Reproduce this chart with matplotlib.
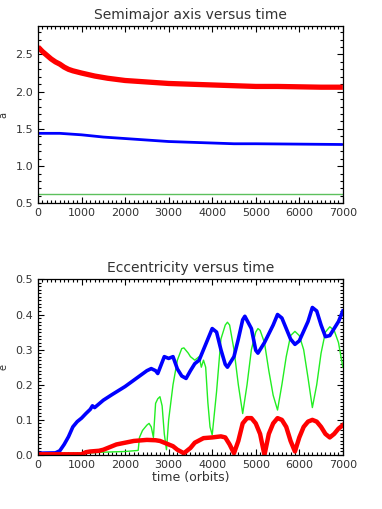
import matplotlib.pyplot as plt
from matplotlib.ticker import MultipleLocator

# semimajor axis
t_a_red = [0, 100, 200, 300, 400, 500, 600, 700, 800, 1000, 1300, 1600, 2000, 2500,
           3000, 3500, 4000, 4500, 5000, 5500, 6000, 6500, 7000]
a_red = [2.60, 2.54, 2.49, 2.44, 2.40, 2.37, 2.33, 2.30, 2.28, 2.25, 2.21, 2.18, 2.15, 2.13,
         2.11, 2.10, 2.09, 2.08, 2.07, 2.07, 2.065, 2.06, 2.06]
t_a_blue = [0, 500, 1000, 1500, 2000, 2500, 3000, 3500, 4000, 4500, 5000, 6000, 7000]
a_blue = [1.44, 1.44, 1.42, 1.39, 1.37, 1.35, 1.33, 1.32, 1.31, 1.30, 1.30, 1.295, 1.29]
t_a_green = [0, 7000]
a_green = [0.63, 0.63]

# eccentricity
t_e_blue = [0, 400, 500, 600, 700, 800, 900, 1000, 1100, 1200, 1250, 1300, 1500, 1700, 2000,
            2200, 2500, 2600, 2700, 2750, 2900, 3000, 3100, 3200, 3300, 3400, 3500, 3600,
            3700, 3800, 3900, 4000, 4100, 4200, 4300, 4350, 4500, 4600, 4700, 4750, 4900,
            5000, 5050, 5200, 5400, 5500, 5600, 5700, 5800, 5900, 6000, 6200, 6300, 6400,
            6500, 6600, 6700, 6800, 6900, 7000]
e_blue = [0.005, 0.006, 0.012, 0.03, 0.052, 0.08, 0.095, 0.105, 0.118, 0.13, 0.14, 0.135, 0.156,
          0.172, 0.195, 0.213, 0.24, 0.246, 0.24, 0.232, 0.28, 0.275, 0.28, 0.245, 0.225, 0.218,
          0.24, 0.26, 0.27, 0.30, 0.33, 0.36, 0.35, 0.30, 0.258, 0.25, 0.28, 0.33, 0.385, 0.395,
          0.36, 0.298, 0.29, 0.32, 0.37, 0.40, 0.39, 0.36, 0.33, 0.315, 0.325, 0.38, 0.42, 0.41,
          0.37, 0.337, 0.34, 0.36, 0.38, 0.41]
t_e_green = [0, 1000, 1500, 2000, 2300, 2330, 2400, 2500, 2550, 2600, 2650, 2700, 2750, 2800,
             2850, 2900, 2950, 3000, 3100, 3200, 3300, 3350, 3450, 3500, 3600, 3700, 3750, 3800,
             3850, 3900, 3950, 4000, 4100, 4200, 4300, 4350, 4400, 4500, 4600, 4700, 4800, 4900,
             5000, 5050, 5100, 5200, 5300, 5400, 5500, 5600, 5700, 5800, 5900, 6000, 6100, 6200,
             6300, 6400, 6500, 6600, 6700, 6800, 6900, 7000]
e_green = [0.004, 0.005, 0.008, 0.01, 0.013, 0.05, 0.07, 0.085, 0.09, 0.08, 0.05, 0.147, 0.16,
           0.166, 0.14, 0.06, 0.015, 0.10, 0.20, 0.27, 0.303, 0.305, 0.29, 0.28, 0.27, 0.28, 0.25,
           0.27, 0.25, 0.15, 0.08, 0.057, 0.18, 0.33, 0.37, 0.378, 0.37, 0.30, 0.20, 0.118, 0.20,
           0.30, 0.35, 0.36, 0.355, 0.32, 0.24, 0.17, 0.128, 0.20, 0.28, 0.34, 0.352, 0.34, 0.30,
           0.22, 0.135, 0.20, 0.29, 0.35, 0.365, 0.355, 0.32, 0.25]
t_e_red = [0, 1000, 1100, 1200, 1400, 1500, 1700, 1800, 2000, 2200, 2500, 2700, 2800, 3000,
           3100, 3200, 3350, 3500, 3600, 3800, 4000, 4200, 4300, 4400, 4500, 4600, 4700, 4800,
           4900, 5000, 5100, 5200, 5300, 5400, 5500, 5600, 5700, 5800, 5900, 6000, 6100, 6200,
           6300, 6400, 6500, 6600, 6700, 6800, 6900, 7000]
e_red = [0.002, 0.002, 0.008, 0.01, 0.012, 0.015, 0.025, 0.03, 0.035, 0.04, 0.043, 0.042, 0.04,
         0.03, 0.025, 0.015, 0.005, 0.02, 0.035, 0.048, 0.05, 0.053, 0.05, 0.03, 0.005, 0.04,
         0.09, 0.105, 0.105, 0.09, 0.06, 0.0, 0.06, 0.09, 0.105, 0.10, 0.08, 0.04, 0.01, 0.05,
         0.08, 0.095, 0.10, 0.095, 0.08, 0.06, 0.05, 0.06, 0.075, 0.085]

txt = '#333333'

fig = plt.figure(figsize=(3.82, 5.09), dpi=100)
ax1 = fig.add_axes([0.0995, 0.6006, 0.798, 0.348])
ax2 = fig.add_axes([0.0995, 0.1061, 0.798, 0.345])

ax1.plot(t_a_red, a_red, color='red', lw=3.8, solid_capstyle='butt')
ax1.plot(t_a_blue, a_blue, color='blue', lw=2.0, solid_capstyle='butt')
ax1.plot(t_a_green, a_green, color='#5cc05c', lw=1.0)
ax1.set_xlim(0, 7000)
ax1.set_ylim(0.5, 2.88)
ax1.yaxis.set_major_locator(MultipleLocator(0.5))
ax1.yaxis.set_minor_locator(MultipleLocator(0.1))
ax1.set_ylabel('a', fontsize=7, color=txt, labelpad=5)
ax1.set_title('Semimajor axis versus time', fontsize=10, color=txt, pad=5)

ax2.plot(t_e_green, e_green, color='#22ee22', lw=1.0)
ax2.plot(t_e_blue, e_blue, color='blue', lw=2.6)
ax2.plot(t_e_red, e_red, color='red', lw=3.2)
ax2.set_xlim(0, 7000)
ax2.set_ylim(0, 0.5)
ax2.yaxis.set_major_locator(MultipleLocator(0.1))
ax2.yaxis.set_minor_locator(MultipleLocator(0.01))
ax2.set_ylabel('e', fontsize=7, color=txt, labelpad=5)
ax2.set_xlabel('time (orbits)', fontsize=9, color=txt, labelpad=1)
ax2.set_title('Eccentricity versus time', fontsize=10, color=txt, pad=5)

for ax in (ax1, ax2):
    ax.xaxis.set_major_locator(MultipleLocator(1000))
    ax.xaxis.set_minor_locator(MultipleLocator(100))
    ax.tick_params(which='both', direction='in', top=True, right=True,
                   labelsize=8, labelcolor=txt, width=0.8)
    ax.tick_params(which='major', length=4)
    ax.tick_params(which='minor', length=2)
    for s in ax.spines.values():
        s.set_linewidth(0.9)

fig.savefig('out.png', dpi=100)
